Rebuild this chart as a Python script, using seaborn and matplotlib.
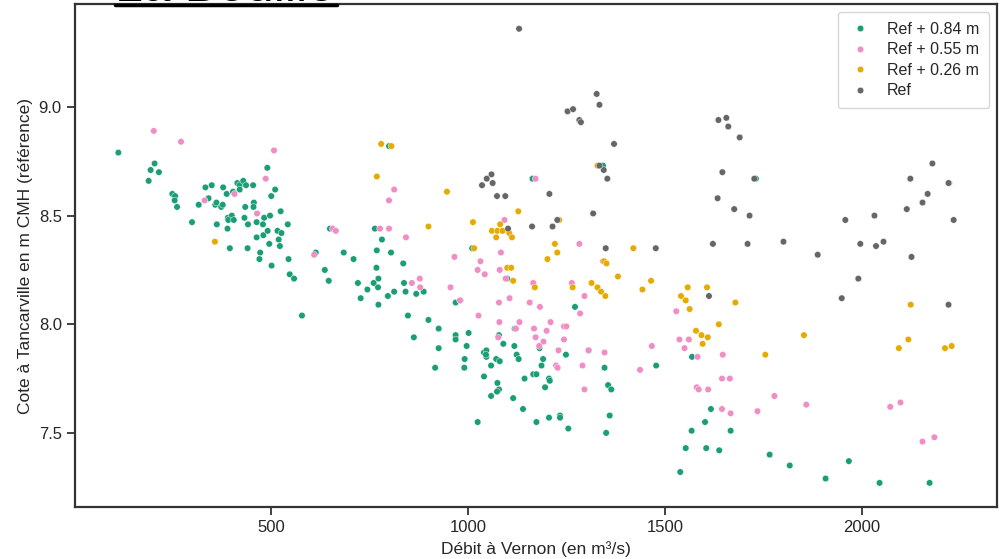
import matplotlib
matplotlib.use("Agg")
import matplotlib.pyplot as plt
from matplotlib.lines import Line2D
import seaborn as sns
import pandas as pd

# ---------------- data ----------------
series_names = ["Ref + 0.84 m", "Ref + 0.55 m", "Ref + 0.26 m", "Ref"]
series_colors = ["#1b9e77", "#f08dc5", "#e6ab02", "#666666"]

green_x = [113, 205, 195, 216, 190, 250, 257, 256, 262, 300, 317, 334, 350, 342, 359, 362,
           374, 378, 379, 388, 404, 415, 421, 421, 430, 437, 455, 491, 511, 501, 457, 456,
           435, 391, 401, 392, 406, 363, 390, 433, 442, 464, 483, 498, 525, 480, 543, 464,
           481, 492, 517, 527, 520, 496, 523, 396, 441, 473, 471, 502, 545, 548, 559, 614,
           650, 685, 710, 637, 647, 721, 745, 728, 579, 764, 782, 769, 805, 768, 836, 773,
           761, 772, 773, 797, 813, 838, 842, 869, 888, 969, 981, 848, 900, 1164, 1272, 800,
           1011, 1100, 926, 863, 926, 917, 969, 969, 1002, 997, 992, 991, 1041, 1047, 1047,
           1046, 1072, 1081, 1059, 1041, 1075, 1079, 1074, 1059, 1025, 1115, 1140, 1174,
           1206, 1234, 1234, 1255, 1079, 1090, 1118, 1124, 1129, 1144, 1166, 1174, 1187,
           1191, 1182, 1196, 1206, 1208, 1249, 1119, 1307, 1347, 1478, 1356, 1364, 1360,
           1351, 1569, 1617, 1602, 1568, 1667, 1553, 1605, 1638, 1539, 1766, 1817, 1908,
           1967, 2045, 2172, 1343, 1731]
green_y = [8.79, 8.74, 8.71, 8.70, 8.66, 8.60, 8.59, 8.57, 8.54, 8.47, 8.55, 8.63, 8.64, 8.58,
           8.55, 8.56, 8.54, 8.55, 8.63, 8.60, 8.61, 8.65, 8.64, 8.62, 8.66, 8.64, 8.64, 8.72,
           8.62, 8.59, 8.56, 8.54, 8.54, 8.49, 8.50, 8.48, 8.48, 8.46, 8.44, 8.49, 8.46, 8.47,
           8.49, 8.50, 8.52, 8.46, 8.46, 8.40, 8.41, 8.43, 8.43, 8.42, 8.39, 8.37, 8.36, 8.35,
           8.35, 8.33, 8.30, 8.27, 8.30, 8.23, 8.21, 8.33, 8.44, 8.33, 8.30, 8.25, 8.20, 8.19,
           8.16, 8.12, 8.04, 8.44, 8.39, 8.34, 8.33, 8.26, 8.28, 8.21, 8.19, 8.17, 8.09, 8.13,
           8.15, 8.19, 8.15, 8.14, 8.15, 8.10, 8.11, 8.04, 8.02, 8.67, 8.08, 8.82, 8.35, 8.21,
           7.98, 7.94, 7.89, 7.80, 7.95, 7.93, 7.96, 7.90, 7.84, 7.80, 7.87, 7.88, 7.85, 7.86,
           7.84, 7.83, 7.81, 7.76, 7.73, 7.70, 7.69, 7.67, 7.55, 7.66, 7.61, 7.55, 7.57, 7.58,
           7.57, 7.52, 7.95, 7.91, 7.90, 7.86, 7.84, 7.75, 7.77, 7.77, 7.81, 7.84, 7.89, 7.71,
           7.75, 7.74, 7.86, 7.98, 7.88, 7.80, 7.81, 7.72, 7.70, 7.58, 7.50, 7.85, 7.61, 7.55,
           7.51, 7.51, 7.43, 7.43, 7.42, 7.32, 7.40, 7.35, 7.29, 7.37, 7.27, 7.27, 8.73, 8.67]

pink_x = [203, 272, 508, 487, 408, 332, 465, 657, 665, 610, 813, 800, 777, 800, 843, 966,
          1084, 1032, 1025, 1043, 1081, 1096, 1172, 1283, 1166, 1264, 1296, 1285, 1183, 1157,
          1106, 1079, 1027, 980, 956, 878, 879, 858, 1080, 1131, 1210, 1122, 1168, 1200, 1244,
          1250, 1077, 1172, 1192, 1181, 1244, 1230, 1306, 1224, 1228, 1291, 1296, 1347, 1437,
          1467, 1529, 1537, 1561, 1550, 1583, 1647, 1645, 1665, 1581, 1586, 1610, 1645, 1667,
          1735, 1778, 1859, 2072, 2098, 2154, 2184, 2222, 1093, 1343]
pink_y = [8.89, 8.84, 8.80, 8.67, 8.60, 8.57, 8.51, 8.44, 8.43, 8.32, 8.62, 8.57, 8.44, 8.44,
          8.40, 8.31, 8.33, 8.29, 8.25, 8.23, 8.25, 8.21, 8.67, 8.37, 8.19, 8.19, 8.13, 8.05,
          8.08, 8.10, 8.12, 8.10, 8.04, 8.11, 8.17, 8.21, 8.17, 8.19, 8.01, 8.01, 8.01, 7.98,
          7.98, 7.97, 7.99, 7.99, 7.94, 7.94, 7.92, 7.90, 7.93, 7.88, 7.88, 7.81, 7.80, 7.81,
          7.70, 7.87, 7.79, 7.90, 8.06, 7.93, 7.93, 7.89, 7.85, 7.86, 7.75, 7.75, 7.71, 7.70,
          7.70, 7.61, 7.59, 7.60, 7.67, 7.63, 7.62, 7.64, 7.46, 7.48, 8.65, 8.48, 8.29]

orange_x = [358, 780, 806, 769, 947, 900, 1128, 1013, 1082, 1061, 1075, 1088, 1072, 1105,
            1112, 1232, 1221, 1227, 1202, 1016, 1100, 1110, 1115, 1170, 1266, 1314, 1329,
            1338, 1349, 1329, 1420, 1346, 1352, 1381, 1465, 1443, 1558, 1607, 1541, 1553,
            1563, 1679, 1637, 1579, 1593, 1609, 1596, 1853, 1755, 2124, 2118, 2094, 2211, 2228]
orange_y = [8.38, 8.83, 8.82, 8.68, 8.61, 8.45, 8.52, 8.47, 8.46, 8.43, 8.43, 8.43, 8.40, 8.42,
            8.40, 8.48, 8.37, 8.33, 8.30, 8.35, 8.26, 8.26, 8.20, 8.17, 8.17, 8.19, 8.17,
            8.15, 8.13, 8.73, 8.35, 8.29, 8.28, 8.22, 8.20, 8.16, 8.17, 8.17, 8.13, 8.11,
            8.07, 8.10, 8.00, 7.97, 7.95, 7.94, 7.91, 7.95, 7.86, 8.09, 7.93, 7.89, 7.89, 7.90]

gray_x = [1130, 1327, 1334, 1253, 1267, 1283, 1287, 1371, 1636, 1656, 1661, 1690, 1646, 1727,
          1345, 1354, 1334, 1634, 1676, 1715, 1207, 1318, 1095, 1163, 1215, 1227, 1102, 1477,
          1622, 1710, 1801, 1350, 1060, 1048, 1036, 1063, 1074, 1612, 2179, 2123, 2220, 2167,
          2154, 2114, 2233, 2032, 1958, 1888, 1996, 2036, 2055, 2126, 1991, 1949, 2220]
gray_y = [9.36, 9.06, 9.01, 8.98, 8.99, 8.94, 8.93, 8.83, 8.94, 8.95, 8.91, 8.86, 8.70, 8.67,
          8.71, 8.67, 8.73, 8.58, 8.53, 8.50, 8.60, 8.51, 8.59, 8.45, 8.45, 8.48, 8.44, 8.35,
          8.37, 8.37, 8.38, 8.35, 8.69, 8.67, 8.64, 8.65, 8.59, 8.13, 8.74, 8.67, 8.65, 8.60,
          8.56, 8.53, 8.48, 8.50, 8.48, 8.32, 8.37, 8.36, 8.38, 8.31, 8.21, 8.12, 8.09]

title_text = "La Bouille"
x_label = "Débit à Vernon (en m³/s)"
y_label = "Cote à Tancarville en m CMH (référence)"
x_ticks = [500, 1000, 1500, 2000]
y_ticks = [7.5, 8.0, 8.5, 9.0]

# ---------------- build table ----------------
frames = []
for name, xs, ys in zip(series_names,
                        [green_x, pink_x, orange_x, gray_x],
                        [green_y, pink_y, orange_y, gray_y]):
    frames.append(pd.DataFrame({"debit": xs, "cote": ys, "serie": name}))
df = pd.concat(frames, ignore_index=True)

# ---------------- style ----------------
sns.set_theme(style="ticks", context="notebook", font_scale=1.1)
plt.rcParams["font.family"] = ["Liberation Sans", "DejaVu Sans"]
plt.rcParams["axes.edgecolor"] = "#333333"
plt.rcParams["axes.linewidth"] = 1.6

fig = plt.figure(figsize=(10.07, 5.59), dpi=100)
ax = fig.add_axes([75 / 1007, 1 - 507 / 559, (997 - 75) / 1007, (507 - 4) / 559])

sns.scatterplot(data=df, x="debit", y="cote", hue="serie", hue_order=series_names,
                palette=series_colors, s=22, linewidth=0.3, edgecolor="white", ax=ax)

ax.set_xlim(3, 2343)
ax.set_ylim(7.159, 9.474)
ax.set_xticks(x_ticks)
ax.set_yticks(y_ticks)
ax.set_xlabel(x_label, fontsize=12.5, labelpad=4)
ax.set_ylabel(y_label, fontsize=12.5)
ax.tick_params(axis="both", labelsize=12, length=6, width=1.3, color="#333333")
for sp in ax.spines.values():
    sp.set_visible(True)

leg = ax.legend(loc="upper right", fontsize=11.5, markerscale=1.0, frameon=True,
                borderpad=0.6, handlelength=1.6, handletextpad=0.9, labelspacing=0.35,
                borderaxespad=0.5)
leg.get_frame().set_edgecolor("#cccccc")

# cut-off underlined title at the top edge (as in the reference)
fig.text(115 / 1007, 1 - 1.2 / 559, title_text, fontsize=36, va="baseline", ha="left",
         color="black")
fig.add_artist(Line2D([115 / 1007, 337 / 1007], [1 - 5 / 559, 1 - 5 / 559],
                      transform=fig.transFigure, color="black", linewidth=2.5))

fig.savefig("out.png", dpi=100)
